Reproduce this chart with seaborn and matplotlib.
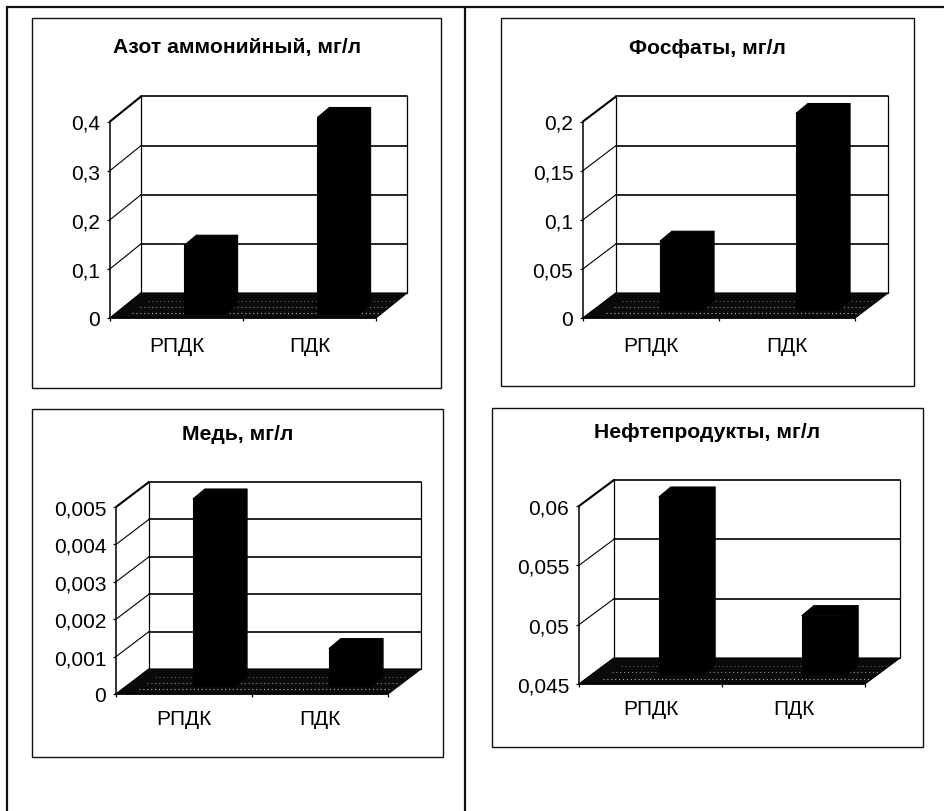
import matplotlib
matplotlib.use("Agg")
import matplotlib.pyplot as plt
from matplotlib.lines import Line2D
from matplotlib.patches import Polygon, Rectangle
import seaborn as sns

# ================= DATA =================
CATEGORIES = ["РПДК", "ПДК"]

TITLES = ["Азот аммонийный, мг/л", "Фосфаты, мг/л", "Медь, мг/л", "Нефтепродукты, мг/л"]

AZOT_VALUES = [0.14, 0.4]
FOSFAT_VALUES = [0.07, 0.2]
MED_VALUES = [0.005, 0.001]
NEFT_VALUES = [0.06, 0.05]

AZOT_TICKS = [0, 0.1, 0.2, 0.3, 0.4]
FOSFAT_TICKS = [0, 0.05, 0.1, 0.15, 0.2]
MED_TICKS = [0, 0.001, 0.002, 0.003, 0.004, 0.005]
NEFT_TICKS = [0.045, 0.05, 0.055, 0.06]

AZOT_LABELS = ["0", "0,1", "0,2", "0,3", "0,4"]
FOSFAT_LABELS = ["0", "0,05", "0,1", "0,15", "0,2"]
MED_LABELS = ["0", "0,001", "0,002", "0,003", "0,004", "0,005"]
NEFT_LABELS = ["0,045", "0,05", "0,055", "0,06"]

# ================= LAYOUT (pixels of the 944x812 picture) =================
W, H = 944, 812
# frame box, front plane of the plot, wall depth, shift of the bars, title centre
LAYOUT = [
    dict(frame=(32, 19, 441, 389), plot=(110, 122.5, 376, 319), depth=(31, 25), shift=(28.5, 4), title=(237, 48), pad=13),
    dict(frame=(501, 19, 914, 387), plot=(583, 122.5, 855, 319), depth=(33, 25), shift=(30, 8), title=(707, 48), pad=13),
    dict(frame=(32, 410, 443, 758), plot=(116, 508, 388, 695), depth=(33, 25), shift=(30, 8), title=(238, 435), pad=11),
    dict(frame=(492, 409, 923, 748), plot=(579, 507, 865, 685), depth=(35, 26), shift=(30.5, 9), title=(707, 433), pad=10.5),
]
BAR_DEPTH = (12, 10)
BAR_WIDTH = 0.31


def fx(x):
    return x / W


def fy(y):
    return 1 - y / H


def draw_panel(fig, layout, title, values, ticks, labels):
    # white chart box with thin black border
    x0, y0, x1, y1 = layout["frame"]
    fig.add_artist(Rectangle((fx(x0), fy(y1)), (x1 - x0) / W, (y1 - y0) / H, transform=fig.transFigure,
                             facecolor="white", edgecolor="#111111", linewidth=1.0, zorder=-1))
    fig.text(fx(layout["title"][0]), fy(layout["title"][1]), title, ha="center", va="center",
             fontsize=15.2, fontweight="bold", color="black")

    left, top, right, bottom = layout["plot"]
    ax = fig.add_axes([fx(left), fy(bottom), (right - left) / W, (bottom - top) / H])
    ax.patch.set_visible(False)

    sns.barplot(x=CATEGORIES, y=values, color="black", saturation=1, width=BAR_WIDTH,
                edgecolor="black", linewidth=0.8, ax=ax)
    ymin, ymax = ticks[0], ticks[-1]
    ax.set_xlim(-0.5, 1.5)
    ax.set_ylim(ymin, ymax)

    # pixel sizes in data units, so that the depth can be drawn on the chart's own scales
    px_x = 2 / (right - left)
    px_y = (ymax - ymin) / (bottom - top)
    dx, dy = layout["depth"][0] * px_x, layout["depth"][1] * px_y
    sx, sy = layout["shift"][0] * px_x, layout["shift"][1] * px_y
    bx, by = BAR_DEPTH[0] * px_x, BAR_DEPTH[1] * px_y

    # back wall and the diagonals to it
    for i, t in enumerate(ticks):
        lw = 1.5 if t == ymax else 0.8
        ax.plot([-0.5, -0.5 + dx], [t, t + dy], color="black", lw=lw, clip_on=False, zorder=1)
        ax.plot([-0.5 + dx, 1.5 + dx], [t + dy, t + dy], color="black", lw=1.2 if i else 0.8, clip_on=False, zorder=1)
    ax.plot([-0.5 + dx] * 2, [ymin + dy, ymax + dy], color="black", lw=0.9, clip_on=False, zorder=1)
    ax.plot([1.5 + dx] * 2, [ymin + dy, ymax + dy], color="black", lw=0.9, clip_on=False, zorder=1)

    # floor, black with some lighter speckle towards the front
    ax.add_patch(Polygon([(-0.5, ymin), (1.5, ymin), (1.5 + dx, ymin + dy), (-0.5 + dx, ymin + dy)],
                         facecolor="#0a0a0a", edgecolor="black", lw=0.8, clip_on=False, zorder=2))
    for frac, col in [(0.2, "#b5b5b5"), (0.45, "#8a8a8a"), (0.7, "#666666")]:
        ax.plot([-0.5 + dx * frac + 0.12, 1.5 + dx * frac - 0.02], [ymin + dy * frac] * 2, color=col, lw=0.8,
                ls=(0, (1, 2.5)), clip_on=False, zorder=3)

    # move the flat bars back on the floor and give them a top and a side
    for bar, value in zip(ax.patches[:], values):
        bx0 = bar.get_x() + sx
        bx1 = bx0 + bar.get_width()
        base = ymin + sy
        top_y = value + sy
        bar.set_x(bx0)
        bar.set_y(base)
        bar.set_height(value - ymin)
        bar.set_clip_on(False)
        bar.set_zorder(5)
        ax.add_patch(Polygon([(bx0, top_y), (bx1, top_y), (bx1 + bx, top_y + by), (bx0 + bx, top_y + by)],
                             facecolor="black", edgecolor="black", lw=0.8, clip_on=False, zorder=5))
        ax.add_patch(Polygon([(bx1, base), (bx1, top_y), (bx1 + bx, top_y + by), (bx1 + bx, base + by)],
                             facecolor="black", edgecolor="black", lw=0.8, clip_on=False, zorder=5))

    ax.set_yticks(ticks, labels)
    ax.set_xticks([0, 1], CATEGORIES)
    ax.set_xticks([-0.5, 0.5, 1.5], minor=True)
    ax.tick_params(axis="y", length=2.5, width=0.9, pad=4.5, labelsize=15, left=True, colors="black")
    ax.tick_params(axis="x", which="major", length=0, pad=layout["pad"], labelsize=15, colors="black")
    ax.tick_params(axis="x", which="minor", length=2.5, width=0.9, bottom=True, colors="black")
    ax.set_xlabel("")
    ax.set_ylabel("")

    sns.despine(ax=ax, top=True, right=True)
    for side in ["left", "bottom"]:
        ax.spines[side].set_linewidth(1.1)
        ax.spines[side].set_color("black")
        ax.spines[side].set_zorder(6)


sns.set_style("white")
plt.rcParams["font.family"] = ["Liberation Sans", "DejaVu Sans"]

fig = plt.figure(figsize=(W / 100, H / 100), dpi=100, facecolor="white")

# outer table lines of the scanned page
for xs, ys in [((7, 944), (8, 8)), ((7, 7), (8, 812)), ((465, 465), (8, 812))]:
    fig.add_artist(Line2D([fx(x) for x in xs], [fy(y) for y in ys], color="#111111", lw=1.6, zorder=-1))

all_values = [AZOT_VALUES, FOSFAT_VALUES, MED_VALUES, NEFT_VALUES]
all_ticks = [AZOT_TICKS, FOSFAT_TICKS, MED_TICKS, NEFT_TICKS]
all_labels = [AZOT_LABELS, FOSFAT_LABELS, MED_LABELS, NEFT_LABELS]

for layout, title, values, ticks, labels in zip(LAYOUT, TITLES, all_values, all_ticks, all_labels):
    draw_panel(fig, layout, title, values, ticks, labels)

fig.savefig("out.png", dpi=100)
plt.close(fig)
